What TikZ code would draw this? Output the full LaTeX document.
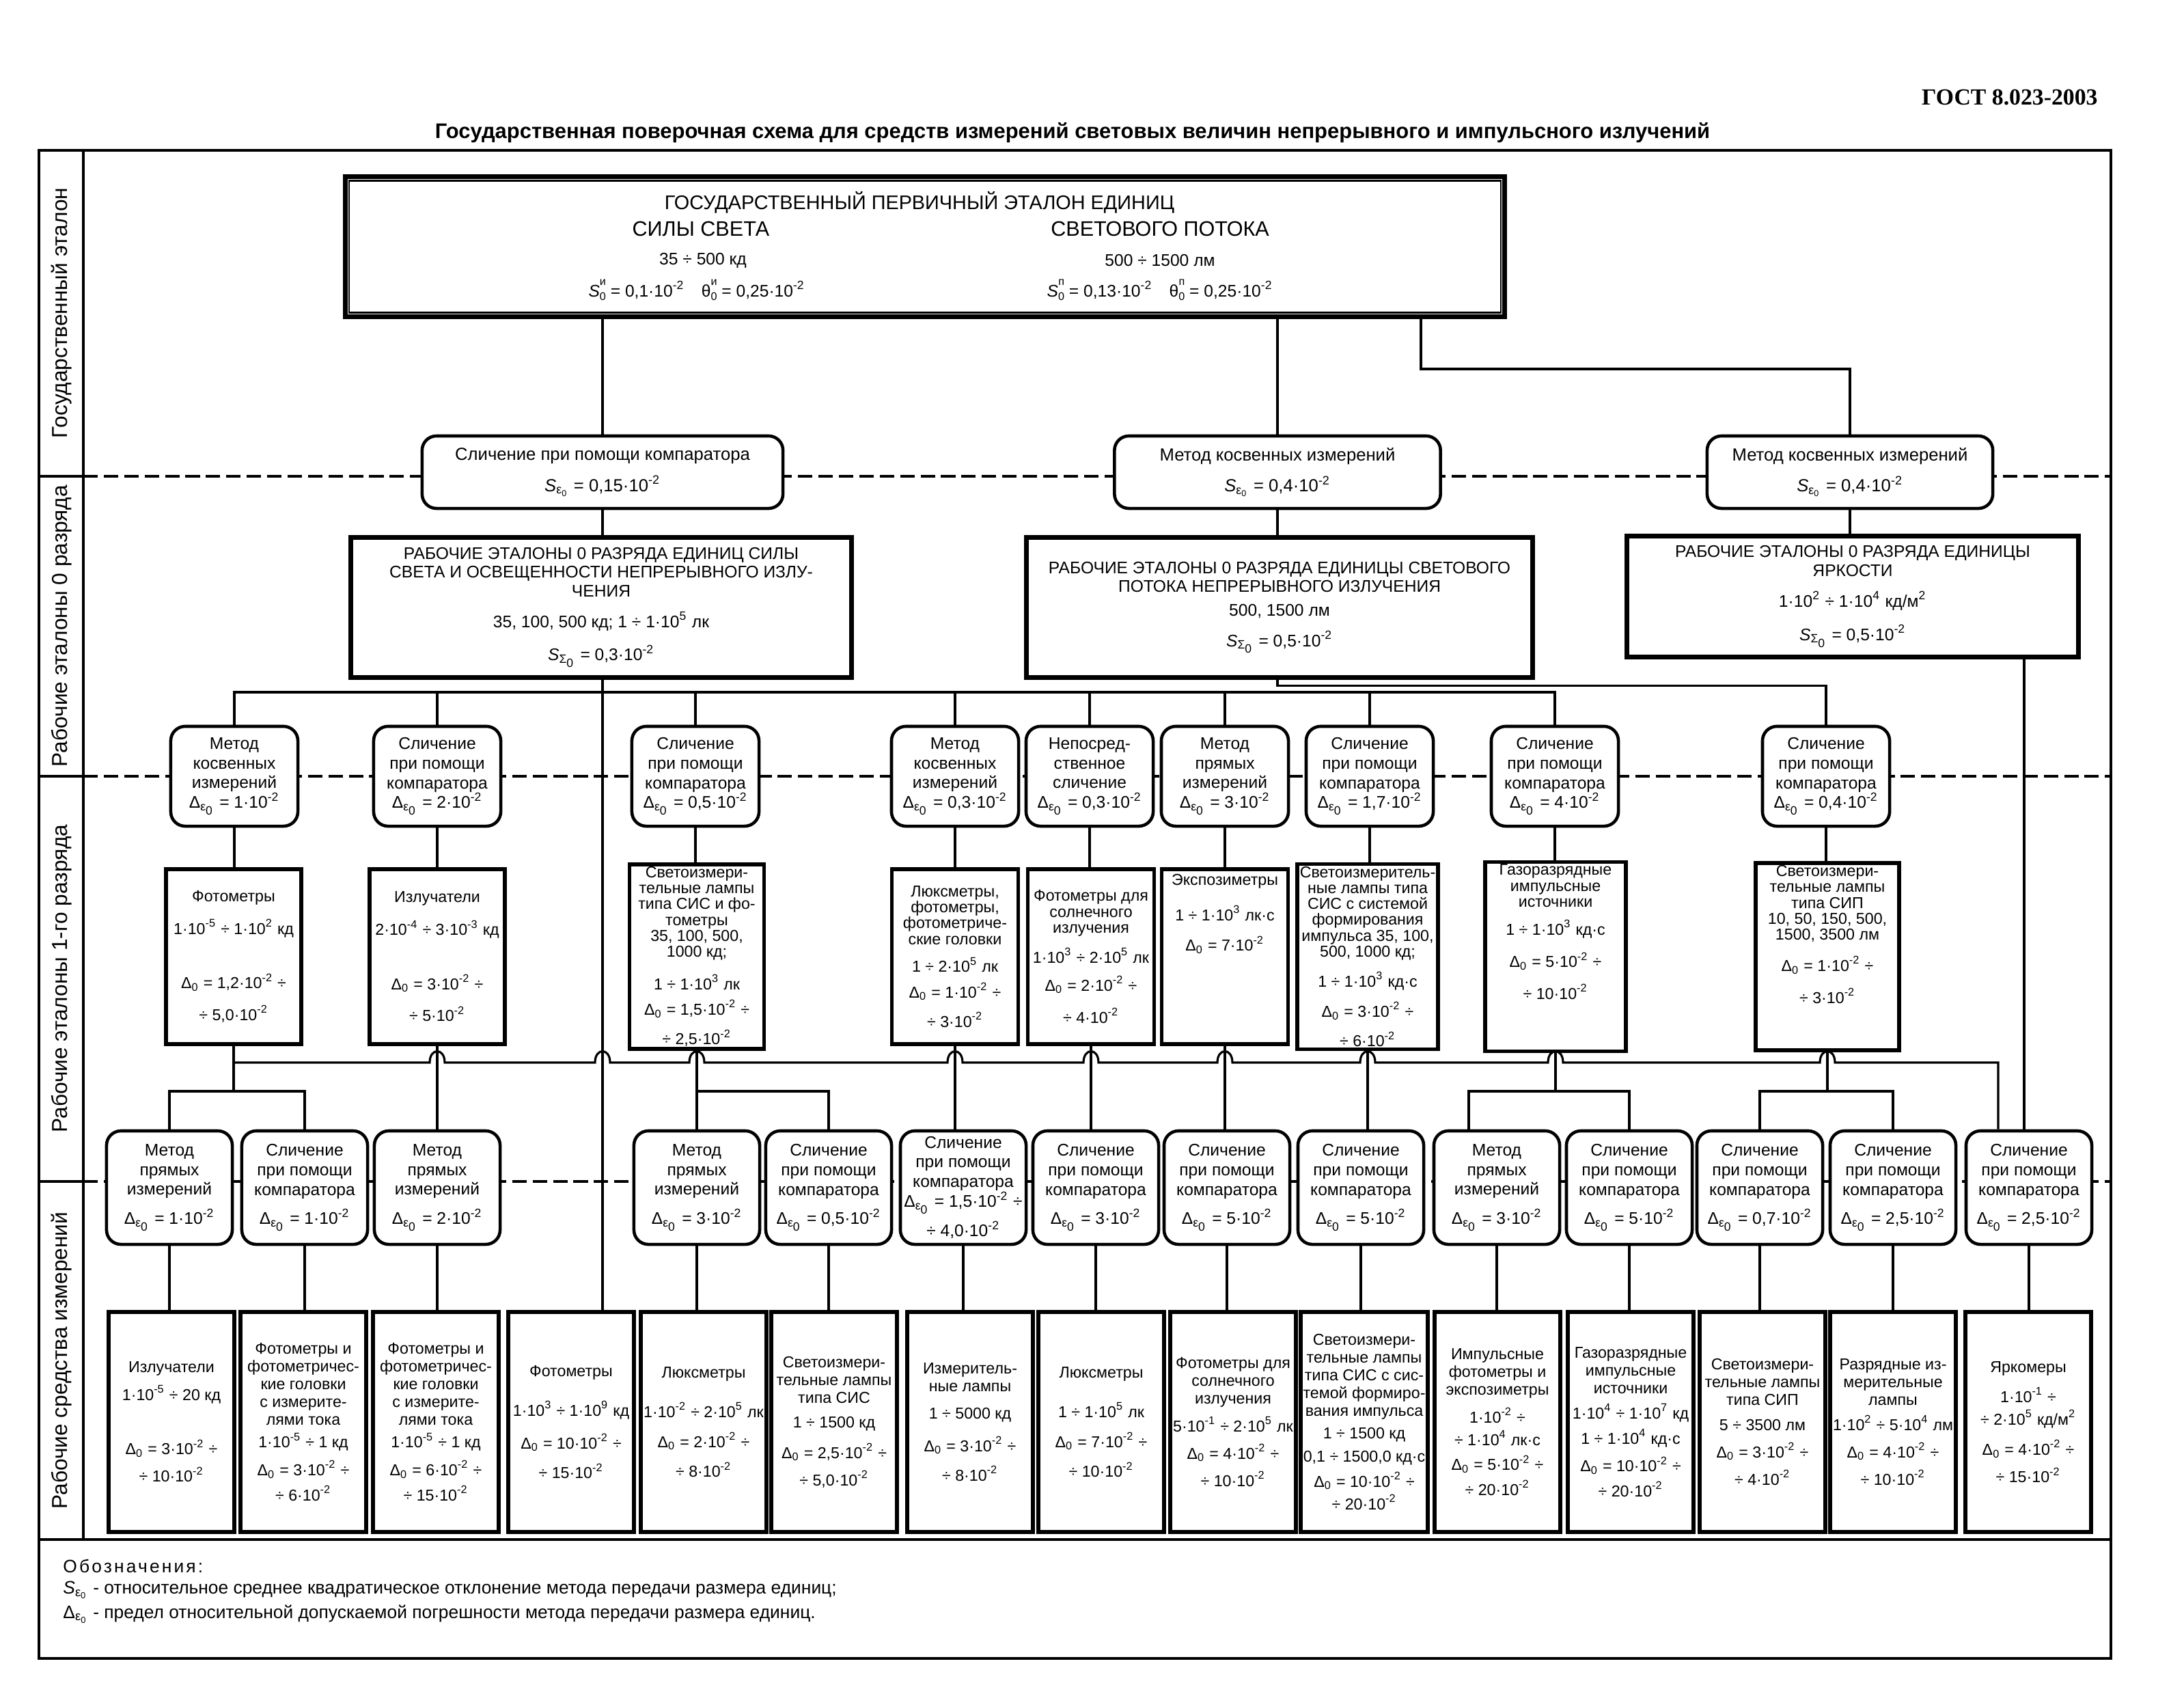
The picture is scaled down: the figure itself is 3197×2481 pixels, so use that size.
\documentclass[tikz,border=0pt]{standalone}
\usepackage{fontspec}
\setmainfont{Liberation Sans}
\newfontfamily\gostfont{Liberation Serif}
\usetikzlibrary{positioning}

% powers of ten and indices
\newcommand{\tp}[1]{·10\textsuperscript{#1}}
\newcommand{\dEps}{Δ\textsubscript{ε\textsubscript{0}}}
\newcommand{\sEps}{\textit{S}\textsubscript{ε\textsubscript{0}}}
\newcommand{\sSig}{\textit{S}\textsubscript{Σ\textsubscript{0}}}
\newcommand{\dNul}{Δ\textsubscript{0}}
\newcommand{\sbsp}[2]{\raisebox{-1.3pt}{\fontsize{4.6}{4.5}\selectfont\shortstack{#2\\#1}}}

\tikzset{
  mth/.style={draw, line width=1.3pt, rounded corners=6pt, fill=white, align=center, inner sep=1pt},
  etl/.style={draw, line width=1.6pt, fill=white, align=center, inner sep=1pt},
  toprow/.style={mth, minimum height=1.06cm, font=\fontsize{7.3}{9}\selectfont},
  arow/.style={mth, minimum width=1.86cm, minimum height=1.46cm, font=\fontsize{7}{8.2}\selectfont},
  crow/.style={mth, minimum width=1.84cm, minimum height=1.66cm, font=\fontsize{7}{8.2}\selectfont},
  brow/.style={etl, minimum height=2.56cm, font=\fontsize{6.6}{6.6}\selectfont},
  drow/.style={etl, minimum width=1.84cm, minimum height=3.22cm, font=\fontsize{6.6}{7.4}\selectfont},
  erow/.style={etl, line width=2pt, font=\fontsize{7}{7.8}\selectfont},
  ln/.style={line width=0.9pt},
  sep/.style={line width=1.1pt, dash pattern=on 6pt off 2.5pt},
  rowlbl/.style={rotate=90, font=\fontsize{9}{10}\selectfont},
}

\begin{document}
\begin{tikzpicture}[x=0.01cm, y=-0.01cm]
\useasboundingbox (0,0) rectangle (3197,2481);

% heading
\node[anchor=east, font=\gostfont\bfseries\fontsize{9.6}{11}\selectfont] (gost) at (3083,143) {ГОСТ 8.023-2003};
\node[font=\bfseries\fontsize{8.8}{10}\selectfont] (title) at (1570,194) {Государственная поверочная схема для средств измерений световых величин непрерывного и импульсного излучений};

% frame and rows
\draw[line width=1.2pt] (57,220) rectangle (3090,2427);
\draw[line width=1.2pt] (122,220) -- (122,2253);
\draw[line width=1.2pt] (57,2253) -- (3090,2253);
\foreach \yy in {697,1136,1729} {
  \draw[line width=1pt] (57,\yy) -- (122,\yy);
  \draw[sep] (122,\yy) -- (3090,\yy);
}
\node[rowlbl] (lbl1) at (90,458) {Государственный эталон};
\node[rowlbl] (lbl2) at (90,916) {Рабочие эталоны 0 разряда};
\node[rowlbl] (lbl3) at (90,1432) {Рабочие эталоны 1-го разряда};
\node[rowlbl] (lbl4) at (90,1991) {Рабочие средства измерений};

% state primary standard
\node[draw, line width=2pt, minimum width=16.96cm, minimum height=2.04cm] (gpe) at (1354,361) {};
\draw[line width=0.8pt] ([shift={(9,9)}]gpe.north west) rectangle ([shift={(-9,-9)}]gpe.south east);
\node[font=\fontsize{8.2}{10}\selectfont] (gpeT) at (1346,296) {ГОСУДАРСТВЕННЫЙ ПЕРВИЧНЫЙ ЭТАЛОН ЕДИНИЦ};
\node[font=\fontsize{8.7}{10}\selectfont] (ss) at (1026,335) {СИЛЫ СВЕТА};
\node[font=\fontsize{8.7}{10}\selectfont] (sp) at (1698,335) {СВЕТОВОГО ПОТОКА};
\node[font=\fontsize{7}{8}\selectfont] (ssr) at (1029,381) {35 ÷ 500 кд};
\node[font=\fontsize{7}{8}\selectfont] (spr) at (1698,381) {500 ÷ 1500 лм};
\node[font=\fontsize{7}{8}\selectfont] (sss) at (1020,424) {\textit{S}\sbsp{0}{и} = 0,1\tp{-2}\quad θ\sbsp{0}{и} = 0,25\tp{-2}};
\node[font=\fontsize{7}{8}\selectfont] (sps) at (1698,424) {\textit{S}\sbsp{0}{п} = 0,13\tp{-2}\quad θ\sbsp{0}{п} = 0,25\tp{-2}};

% transfer methods to the 0 rank
\node[toprow, minimum width=5.28cm] (m1) at (882,691) {Сличение при помощи компаратора\\[4pt]\sEps{} = 0,15\tp{-2}};
\node[toprow, minimum width=4.77cm] (m2) at (1870,691) {Метод косвенных измерений\\[4pt]\sEps{} = 0,4\tp{-2}};
\node[toprow, minimum width=4.18cm] (m3) at (2708,691) {Метод косвенных измерений\\[4pt]\sEps{} = 0,4\tp{-2}};

% working standards of the 0 rank
\node[erow, minimum width=7.32cm, minimum height=2.04cm] (e1) at (880,889) {РАБОЧИЕ ЭТАЛОНЫ 0 РАЗРЯДА ЕДИНИЦ СИЛЫ\\СВЕТА И ОСВЕЩЕННОСТИ НЕПРЕРЫВНОГО ИЗЛУ-\\ЧЕНИЯ\\[5pt]35, 100, 500 кд; 1 ÷ 1\tp{5} лк\\[5pt]\sSig{} = 0,3\tp{-2}};
\node[erow, minimum width=7.40cm, minimum height=2.04cm] (e2) at (1873,889) {РАБОЧИЕ ЭТАЛОНЫ 0 РАЗРЯДА ЕДИНИЦЫ СВЕТОВОГО\\ПОТОКА НЕПРЕРЫВНОГО ИЗЛУЧЕНИЯ\\[2pt]500, 1500 лм\\[5pt]\sSig{} = 0,5\tp{-2}};
\node[erow, minimum width=6.60cm, minimum height=1.76cm] (e3) at (2712,873) {РАБОЧИЕ ЭТАЛОНЫ 0 РАЗРЯДА ЕДИНИЦЫ\\ЯРКОСТИ\\[5pt]1\tp{2} ÷ 1\tp{4} кд/м\textsuperscript{2}\\[5pt]\sSig{} = 0,5\tp{-2}};

% methods to the 1st rank
\node[arow] (a1) at (343,1136) {Метод\\косвенных\\измерений\\\dEps{} = 1\tp{-2}};
\node[arow] (a2) at (640,1136) {Сличение\\при помощи\\компаратора\\\dEps{} = 2\tp{-2}};
\node[arow] (a3) at (1018,1136) {Сличение\\при помощи\\компаратора\\\dEps{} = 0,5\tp{-2}};
\node[arow] (a4) at (1398,1136) {Метод\\косвенных\\измерений\\\dEps{} = 0,3\tp{-2}};
\node[arow] (a5) at (1595,1136) {Непосред-\\ственное\\сличение\\\dEps{} = 0,3\tp{-2}};
\node[arow] (a6) at (1793,1136) {Метод\\прямых\\измерений\\\dEps{} = 3\tp{-2}};
\node[arow] (a7) at (2005,1136) {Сличение\\при помощи\\компаратора\\\dEps{} = 1,7\tp{-2}};
\node[arow] (a8) at (2276,1136) {Сличение\\при помощи\\компаратора\\\dEps{} = 4\tp{-2}};
\node[arow] (a9) at (2673,1136) {Сличение\\при помощи\\компаратора\\\dEps{} = 0,4\tp{-2}};

% working standards of the 1st rank
\node[brow, minimum width=1.98cm] (b1) at (342,1400) {Фотометры\\[5pt]1\tp{-5} ÷ 1\tp{2} кд\\[14pt]\dNul{} = 1,2\tp{-2} ÷\\[5pt]÷ 5,0\tp{-2}};
\node[brow, minimum width=1.98cm] (b2) at (640,1400) {Излучатели\\[5pt]2\tp{-4} ÷ 3\tp{-3} кд\\[14pt]\dNul{} = 3\tp{-2} ÷\\[5pt]÷ 5\tp{-2}};
\node[brow, minimum width=1.97cm] (b3) at (1020,1400) {Светоизмери-\\тельные лампы\\типа СИС и фо-\\тометры\\35, 100, 500,\\1000 кд;\\[5pt]1 ÷ 1\tp{3} лк\\[4pt]\dNul{} = 1,5\tp{-2} ÷\\[4pt]÷ 2,5\tp{-2}};
\node[brow, minimum width=1.85cm] (b4) at (1398,1400) {Люксметры,\\фотометры,\\фотометриче-\\ские головки\\[5pt]1 ÷ 2\tp{5} лк\\[4pt]\dNul{} = 1\tp{-2} ÷\\[4pt]÷ 3\tp{-2}};
\node[brow, minimum width=1.85cm] (b5) at (1597,1400) {Фотометры для\\солнечного\\излучения\\[4pt]1\tp{3} ÷ 2\tp{5} лк\\[5pt]\dNul{} = 2\tp{-2} ÷\\[5pt]÷ 4\tp{-2}};
\node[brow, minimum width=1.85cm] (b6) at (1793,1400) {Экспозиметры\\[6pt]1 ÷ 1\tp{3} лк·с\\[6pt]\dNul{} = 7\tp{-2}\\[30pt]};
\node[brow, minimum width=2.06cm] (b7) at (2002,1400) {Светоизмеритель-\\ные лампы типа\\СИС с системой\\формирования\\импульса 35, 100,\\500, 1000 кд;\\[4pt]1 ÷ 1\tp{3} кд·с\\[4pt]\dNul{} = 3\tp{-2} ÷\\[4pt]÷ 6\tp{-2}};
\node[brow, minimum width=2.06cm] (b8) at (2277,1400) {Газоразрядные\\импульсные\\источники\\[5pt]1 ÷ 1\tp{3} кд·с\\[5pt]\dNul{} = 5\tp{-2} ÷\\[5pt]÷ 10\tp{-2}\\[14pt]};
\node[brow, minimum width=2.10cm] (b9) at (2675,1400) {Светоизмери-\\тельные лампы\\типа СИП\\10, 50, 150, 500,\\1500, 3500 лм\\[5pt]\dNul{} = 1\tp{-2} ÷\\[5pt]÷ 3\tp{-2}\\[12pt]};

% methods to working instruments
\node[crow] (c1) at (248,1738) {Метод\\прямых\\измерений\\[4pt]\dEps{} = 1\tp{-2}};
\node[crow] (c2) at (446,1738) {Сличение\\при помощи\\компаратора\\[4pt]\dEps{} = 1\tp{-2}};
\node[crow] (c3) at (640,1738) {Метод\\прямых\\измерений\\[4pt]\dEps{} = 2\tp{-2}};
\node[crow] (c4) at (1020,1738) {Метод\\прямых\\измерений\\[4pt]\dEps{} = 3\tp{-2}};
\node[crow] (c5) at (1213,1738) {Сличение\\при помощи\\компаратора\\[4pt]\dEps{} = 0,5\tp{-2}};
\node[crow] (c6) at (1410,1738) {Сличение\\при помощи\\компаратора\\\dEps{} = 1,5\tp{-2} ÷\\[2pt]÷ 4,0\tp{-2}};
\node[crow] (c7) at (1604,1738) {Сличение\\при помощи\\компаратора\\[4pt]\dEps{} = 3\tp{-2}};
\node[crow] (c8) at (1796,1738) {Сличение\\при помощи\\компаратора\\[4pt]\dEps{} = 5\tp{-2}};
\node[crow] (c9) at (1992,1738) {Сличение\\при помощи\\компаратора\\[4pt]\dEps{} = 5\tp{-2}};
\node[crow] (c10) at (2191,1738) {Метод\\прямых\\измерений\\[4pt]\dEps{} = 3\tp{-2}};
\node[crow] (c11) at (2385,1738) {Сличение\\при помощи\\компаратора\\[4pt]\dEps{} = 5\tp{-2}};
\node[crow] (c12) at (2576,1738) {Сличение\\при помощи\\компаратора\\[4pt]\dEps{} = 0,7\tp{-2}};
\node[crow] (c13) at (2771,1738) {Сличение\\при помощи\\компаратора\\[4pt]\dEps{} = 2,5\tp{-2}};
\node[crow] (c14) at (2970,1738) {Сличение\\при помощи\\компаратора\\[4pt]\dEps{} = 2,5\tp{-2}};

% working measuring instruments
\node[drow] (d1) at (251,2081) {Излучатели\\[3pt]1\tp{-5} ÷ 20 кд\\[14pt]\dNul{} = 3\tp{-2} ÷\\[4pt]÷ 10\tp{-2}};
\node[drow] (d2) at (444,2081) {Фотометры и\\фотометричес-\\кие головки\\с измерите-\\лями тока\\[2pt]1\tp{-5} ÷ 1 кд\\[3pt]\dNul{} = 3\tp{-2} ÷\\[3pt]÷ 6\tp{-2}};
\node[drow] (d3) at (638,2081) {Фотометры и\\фотометричес-\\кие головки\\с измерите-\\лями тока\\[2pt]1\tp{-5} ÷ 1 кд\\[3pt]\dNul{} = 6\tp{-2} ÷\\[3pt]÷ 15\tp{-2}};
\node[drow] (d4) at (836,2081) {Фотометры\\[8pt]1\tp{3} ÷ 1\tp{9} кд\\[5pt]\dNul{} = 10\tp{-2} ÷\\[5pt]÷ 15\tp{-2}};
\node[drow] (d5) at (1030,2081) {Люксметры\\[8pt]1\tp{-2} ÷ 2\tp{5} лк\\[5pt]\dNul{} = 2\tp{-2} ÷\\[5pt]÷ 8\tp{-2}};
\node[drow] (d6) at (1221,2081) {Светоизмери-\\тельные лампы\\типа СИС\\[3pt]1 ÷ 1500 кд\\[4pt]\dNul{} = 2,5\tp{-2} ÷\\[4pt]÷ 5,0\tp{-2}};
\node[drow] (d7) at (1420,2081) {Измеритель-\\ные лампы\\[4pt]1 ÷ 5000 кд\\[5pt]\dNul{} = 3\tp{-2} ÷\\[5pt]÷ 8\tp{-2}};
\node[drow] (d8) at (1612,2081) {Люксметры\\[8pt]1 ÷ 1\tp{5} лк\\[5pt]\dNul{} = 7\tp{-2} ÷\\[5pt]÷ 10\tp{-2}};
\node[drow] (d9) at (1805,2081) {Фотометры для\\солнечного\\излучения\\[3pt]5\tp{-1} ÷ 2\tp{5} лк\\[4pt]\dNul{} = 4\tp{-2} ÷\\[4pt]÷ 10\tp{-2}};
\node[drow] (d10) at (1997,2081) {Светоизмери-\\тельные лампы\\типа СИС с сис-\\темой формиро-\\вания импульса\\[2pt]1 ÷ 1500 кд\\[2pt]0,1 ÷ 1500,0 кд·с\\[2pt]\dNul{} = 10\tp{-2} ÷\\[2pt]÷ 20\tp{-2}};
\node[drow] (d11) at (2192,2081) {Импульсные\\фотометры и\\экспозиметры\\[3pt]1\tp{-2} ÷\\[2pt]÷ 1\tp{4} лк·с\\[3pt]\dNul{} = 5\tp{-2} ÷\\[3pt]÷ 20\tp{-2}};
\node[drow] (d12) at (2387,2081) {Газоразрядные\\импульсные\\источники\\[3pt]1\tp{4} ÷ 1\tp{7} кд\\[2pt]1 ÷ 1\tp{4} кд·с\\[3pt]\dNul{} = 10\tp{-2} ÷\\[3pt]÷ 20\tp{-2}};
\node[drow] (d13) at (2580,2081) {Светоизмери-\\тельные лампы\\типа СИП\\[3pt]5 ÷ 3500 лм\\[4pt]\dNul{} = 3\tp{-2} ÷\\[4pt]÷ 4\tp{-2}};
\node[drow] (d14) at (2771,2081) {Разрядные из-\\мерительные\\лампы\\[3pt]1\tp{2} ÷ 5\tp{4} лм\\[4pt]\dNul{} = 4\tp{-2} ÷\\[4pt]÷ 10\tp{-2}};
\node[drow] (d15) at (2969,2081) {Яркомеры\\[4pt]1\tp{-1} ÷\\[2pt]÷ 2\tp{5} кд/м\textsuperscript{2}\\[4pt]\dNul{} = 4\tp{-2} ÷\\[4pt]÷ 15\tp{-2}};

% connectors from the primary standard
\coordinate (gk) at (2080,540);
\draw[ln] (m1.north |- gpe.south) -- (m1.north);
\draw[ln] (m2.north |- gpe.south) -- (m2.north);
\draw[ln] (gk |- gpe.south) -- (gk) -| (m3.north);
\draw[ln] (m1.south) -- (m1.south |- e1.north);
\draw[ln] (m2.south) -- (m2.south |- e2.north);
\draw[ln] (m3.south) -- (m3.south |- e3.north);

% 0 rank to methods of the 1st rank
\coordinate (bus0) at (882,1013);
\draw[ln] (m1.south |- e1.south) -- (bus0);
\draw[ln] (a1.north) |- (a8.north |- bus0) -- (a8.north);
\foreach \n in {a2,a3,a4,a5,a6,a7} \draw[ln] (\n.north) -- (\n.north |- bus0);
\draw[ln] (m2.south |- e2.south) -- ++(0,9) -| (a9.north);
\coordinate (e3x) at (2963,960);
\draw[ln] (e3x |- e3.south) -- (e3x |- c14.north);
\foreach \n in {1,...,9} \draw[ln] (a\n.south) -- (a\n.south |- b\n.north);

% 1st rank to methods, long line with bridges
\coordinate (bus1) at (342,1555);
\coordinate (bus2) at (342,1597);
\coordinate (bk) at (2925,1555);
\draw[ln] (bus1) foreach \bx in {640,882,1020,1398,1597,1793,2002,2277,2675} { -- (\bx-11,1555) .. controls (\bx-11,1533) and (\bx+11,1533) .. (\bx+11,1555) } -- (bk) -- (bk |- c14.north);
\draw[ln] (b1.south) -- (bus2);
\draw[ln] (c1.north) |- (bus2) -| (c2.north);
\draw[ln] (b2.south) -- (c3.north);
\coordinate (j3) at (1020,1597);
\draw[ln] (b3.south) -- (c4.north);
\draw[ln] (j3) -| (c5.north);
\draw[ln] (b4.south) -- (b4.south |- c6.north);
\draw[ln] (b5.south) -- (b5.south |- c7.north);
\draw[ln] (b6.south) -- (b6.south |- c8.north);
\draw[ln] (b7.south) -- (b7.south |- c9.north);
\coordinate (j8) at (2277,1597);
\coordinate (c10in) at (2150,1597);
\draw[ln] (b8.south) -- (j8);
\draw[ln] (c10in |- c10.north) -- (c10in) -| (c11.north);
\coordinate (j9) at (2675,1597);
\draw[ln] (b9.south) -- (j9);
\draw[ln] (c12.north) |- (j9) -| (c13.north);

% methods to instruments
\draw[ln] (bus0) -- (bus0 |- d4.north);
\draw[ln] (c4.south) -- (c4.south |- d5.north);
\foreach \n/\m in {1/1,2/2,3/3,5/6,6/7,7/8,8/9,9/10,10/11,11/12,12/13,13/14,14/15}
  \draw[ln] (c\n.south) -- (c\n.south |- d\m.north);

% legend
\node[anchor=west, font=\fontsize{7.5}{9}\selectfont] (leg0) at (80,2292) {\addfontfeatures{LetterSpace=12}Обозначения:};
\node[anchor=west, font=\fontsize{7.5}{9}\selectfont] (leg1) at (80,2327) {\sEps{} - относительное среднее квадратическое отклонение метода передачи размера единиц;};
\node[anchor=west, font=\fontsize{7.5}{9}\selectfont] (leg2) at (80,2362) {\dEps{} - предел относительной допускаемой погрешности метода передачи размера единиц.};
\end{tikzpicture}
\end{document}
